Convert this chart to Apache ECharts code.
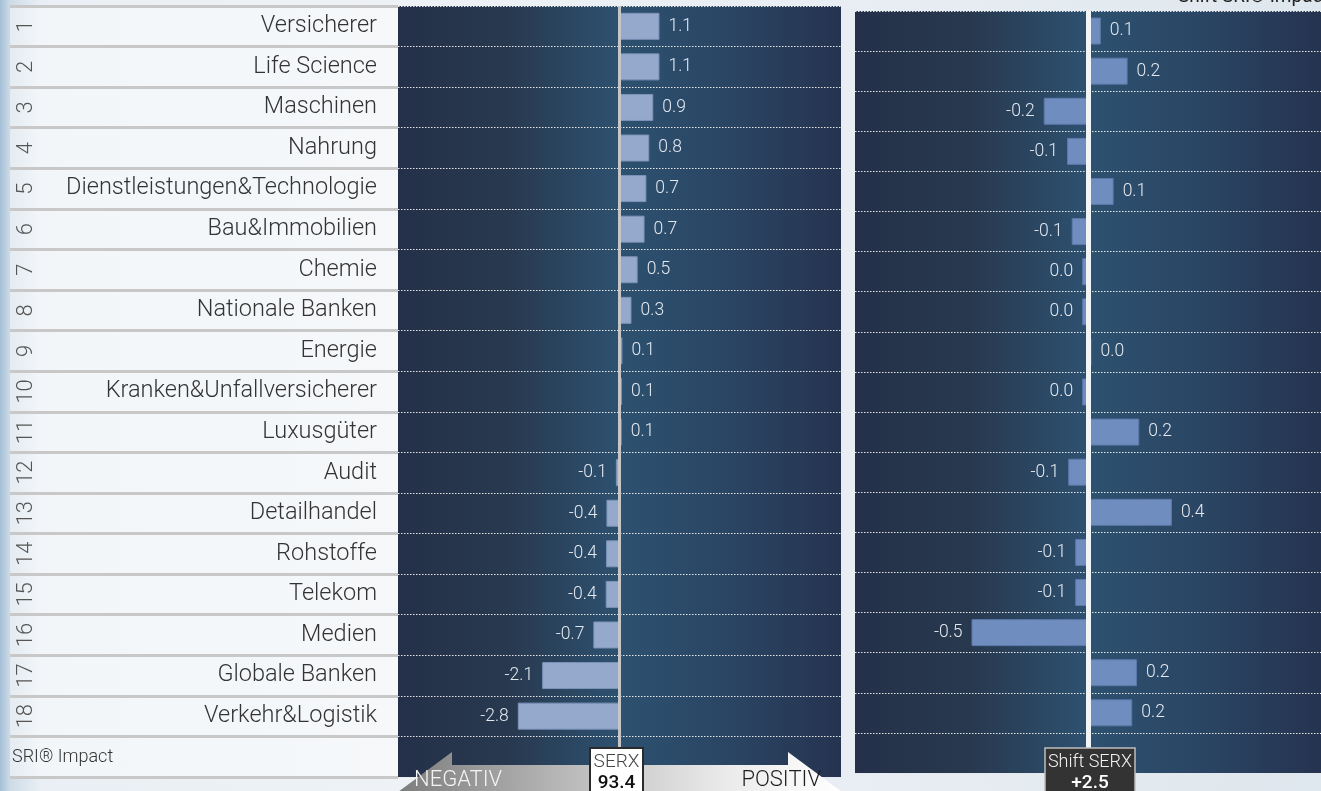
<!DOCTYPE html>
<html>
<head>
<meta charset="utf-8">
<script src="https://cdn.jsdelivr.net/npm/echarts@6/dist/echarts.min.js"></script>
<style>
  html, body { margin: 0; padding: 0; }
  #chart {
    width: 1321px; height: 791px;
    background: linear-gradient(90deg, #a4bfd6 0px, #cddbe7 10px, #e9eff4 40px, #eef2f6 30%, #e8eef3 62%, #dfe7ee 100%);
  }
</style>
</head>
<body>
<div id="chart"></div>
<script>
const categories = ['Versicherer', 'Life Science', 'Maschinen', 'Nahrung', 'Dienstleistungen&Technologie',
  'Bau&Immobilien', 'Chemie', 'Nationale Banken', 'Energie', 'Kranken&Unfallversicherer', 'Luxusgüter',
  'Audit', 'Detailhandel', 'Rohstoffe', 'Telekom', 'Medien', 'Globale Banken', 'Verkehr&Logistik'];
const rowNumbers = ['1', '2', '3', '4', '5', '6', '7', '8', '9', '10', '11', '12', '13', '14', '15', '16', '17', '18'];
const sriImpact = [1.1, 1.1, 0.93, 0.82, 0.74, 0.69, 0.5, 0.33, 0.08, 0.07, 0.06, -0.1, -0.36, -0.37, -0.38, -0.72, -2.13, -2.8];
const shiftImpact = [0.055, 0.17, -0.19, -0.09, 0.11, -0.07, -0.025, -0.025, 0.015, -0.025, 0.22, -0.085, 0.36, -0.055, -0.055, -0.5, 0.21, 0.19];
const footerLabel = 'SRI® Impact';
const rightTitle = 'Shift SRI® Impact';
const serxTitle = 'SERX';
const serxValue = '93.4';
const shiftTitle = 'Shift SERX';
const shiftValue = '+2.5';
const negLabel = 'NEGATIV';
const posLabel = 'POSITIV';

const FONT = 'Roboto, "Liberation Sans", sans-serif';

function fmt(p) {
  let s = Number(p.value).toFixed(1);
  if (s === '-0.0') s = '0.0';
  return s;
}
function items(arr) {
  return arr.map(v => ({ value: v, label: { position: v < 0 ? 'left' : 'right' } }));
}
function panelBg() {
  return {
    type: 'linear', x: 0, y: 0, x2: 1, y2: 0,
    colorStops: [
      { offset: 0, color: '#243049' },
      { offset: 0.25, color: '#28394f' },
      { offset: 0.5, color: '#2d5170' },
      { offset: 0.75, color: '#2a4563' },
      { offset: 1, color: '#253350' }
    ]
  };
}

const chart = echarts.init(document.getElementById('chart'), null, { renderer: 'canvas' });
const cats = categories.concat(['']);
const nums = rowNumbers.concat(['']);

const option = {
  animation: false,
  backgroundColor: 'transparent',
  grid: [
    { left: 398, top: 6, width: 443, height: 771, show: true, backgroundColor: panelBg(), borderWidth: 0 },
    { left: 855, top: 11, width: 472, height: 762, show: true, backgroundColor: panelBg(), borderWidth: 0 }
  ],
  xAxis: [
    { gridIndex: 0, type: 'value', min: -6.1, max: 6.1, show: false },
    { gridIndex: 1, type: 'value', min: -1, max: 1, show: false }
  ],
  yAxis: [
    {
      gridIndex: 0, type: 'category', inverse: true, data: cats, position: 'left',
      axisLine: { show: false, onZero: false },
      axisTick: { show: true, interval: 0, length: 388, lineStyle: { color: '#c8c8c8', width: 3 } },
      axisLabel: { interval: 0, margin: 21, fontSize: 23.5, color: '#333', fontFamily: FONT, fontWeight: 300 },
      splitLine: { show: true, interval: 0, lineStyle: { color: '#e6e6e6', type: [1.5, 1.5], width: 1 } }
    },
    {
      gridIndex: 0, type: 'category', inverse: true, data: nums, position: 'left',
      axisLine: { show: false, onZero: false },
      axisTick: { show: false },
      splitLine: { show: false },
      axisLabel: { interval: 0, rotate: 90, margin: 361, fontSize: 22, color: '#555', fontFamily: FONT, fontWeight: 300 }
    },
    {
      gridIndex: 1, type: 'category', inverse: true, data: cats, position: 'left',
      axisLine: { show: false, onZero: false },
      axisTick: { show: false },
      axisLabel: { show: false },
      splitLine: { show: true, interval: 0, lineStyle: { color: '#e6e6e6', type: [1.5, 1.5], width: 1 } }
    }
  ],
  series: [
    {
      type: 'bar', xAxisIndex: 0, yAxisIndex: 0, data: items(sriImpact), barWidth: 27,
      itemStyle: { color: '#94a9cc', borderColor: '#7d93b9', borderWidth: 1 },
      label: { show: true, distance: 9, color: '#e4e9f0', fontSize: 17.5, fontFamily: FONT, fontWeight: 300, formatter: fmt },
      markLine: {
        silent: true, symbol: 'none', label: { show: false },
        lineStyle: { color: '#c6c6c6', width: 3, type: 'solid' },
        data: [{ xAxis: 0 }]
      }
    },
    {
      type: 'bar', xAxisIndex: 1, yAxisIndex: 2, data: items(shiftImpact), barWidth: 27,
      itemStyle: { color: '#6f8dbf', borderColor: '#5c79aa', borderWidth: 1 },
      label: { show: true, distance: 9, color: '#e4e9f0', fontSize: 17.5, fontFamily: FONT, fontWeight: 300, formatter: fmt },
      markLine: {
        silent: true, symbol: 'none', label: { show: false },
        lineStyle: { color: '#f2f4f6', width: 5, type: 'solid' },
        data: [{ xAxis: 0 }]
      }
    }
  ],
  graphic: [
    { type: 'rect', z: -10, shape: { x: 10, y: 6, width: 388, height: 771 }, style: { fill: 'rgba(255,255,255,0.45)' } },
    { type: 'text', z: 10, x: 12, y: 757, style: { text: footerLabel, fontSize: 18, fill: '#333', fontFamily: FONT, fontWeight: 300, verticalAlign: 'middle' } },
    { type: 'text', z: 10, x: 1178, y: -3, style: { text: rightTitle, fontSize: 19, fill: '#222', fontFamily: FONT, verticalAlign: 'middle' } },
    {
      type: 'polygon', z: 100,
      shape: { points: [[398, 792], [452, 752], [452, 765], [788, 765], [788, 752], [842, 792], [788, 832], [788, 819], [452, 819], [452, 832]] },
      style: {
        fill: { type: 'linear', x: 0, y: 0, x2: 1, y2: 0, colorStops: [
          { offset: 0, color: '#7d7d7d' }, { offset: 0.45, color: '#c4c4c4' }, { offset: 0.75, color: '#ececec' }, { offset: 1, color: '#ffffff' }
        ] }
      }
    },
    { type: 'text', z: 101, x: 414, y: 780, style: { text: negLabel, fontSize: 22, fill: '#f4f4f4', fontFamily: FONT, fontWeight: 300, verticalAlign: 'middle' } },
    { type: 'text', z: 101, x: 821, y: 780, style: { text: posLabel, fontSize: 22, fill: '#1e1e1e', fontFamily: FONT, fontWeight: 300, align: 'right', verticalAlign: 'middle' } },
    { type: 'rect', z: 102, shape: { x: 590, y: 748, width: 53, height: 50 }, style: { fill: '#ffffff', stroke: '#2a2a2a', lineWidth: 2 } },
    { type: 'text', z: 103, x: 616.5, y: 762, style: { text: serxTitle, fontSize: 19, fill: '#444', fontFamily: FONT, fontWeight: 300, align: 'center', verticalAlign: 'middle' } },
    { type: 'text', z: 103, x: 616.5, y: 783, style: { text: serxValue, fontSize: 19, fill: '#111', fontFamily: FONT, fontWeight: 500, align: 'center', verticalAlign: 'middle' } },
    { type: 'rect', z: 102, shape: { x: 1045, y: 748, width: 90, height: 50 }, style: { fill: '#333333', stroke: '#bdbdbd', lineWidth: 1.5 } },
    { type: 'text', z: 103, x: 1090, y: 762, style: { text: shiftTitle, fontSize: 18, fill: '#f2f2f2', fontFamily: FONT, fontWeight: 300, align: 'center', verticalAlign: 'middle' } },
    { type: 'text', z: 103, x: 1090, y: 783, style: { text: shiftValue, fontSize: 19, fill: '#ffffff', fontFamily: FONT, fontWeight: 500, align: 'center', verticalAlign: 'middle' } }
  ]
};
chart.setOption(option);
</script>
</body>
</html>
